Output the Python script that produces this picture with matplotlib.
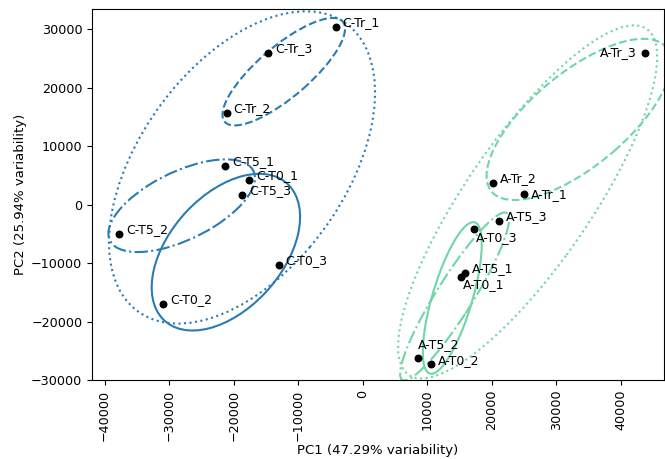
import numpy as np
import matplotlib.pyplot as plt
import matplotlib.transforms as transforms
from matplotlib.patches import Ellipse

# sample names and PCA scores
c_names = ["C-T0_1", "C-T0_2", "C-T0_3", "C-T5_1", "C-T5_2", "C-T5_3", "C-Tr_1", "C-Tr_2", "C-Tr_3"]
c_pc1 = [-17600, -30900, -13000, -21300, -37700, -18650, -4200, -21100, -14700]
c_pc2 = [4300, -17000, -10300, 6700, -5000, 1750, 30500, 15750, 26000]

a_names = ["A-T0_1", "A-T0_2", "A-T0_3", "A-T5_1", "A-T5_2", "A-T5_3", "A-Tr_1", "A-Tr_2", "A-Tr_3"]
a_pc1 = [15250, 10600, 17270, 15800, 8500, 21100, 25000, 20250, 43800]
a_pc2 = [-12300, -27300, -4200, -11700, -26250, -2750, 1900, 3800, 26000]

# group ellipses: centre, half extent along PC1 / PC2, correlation
ell_group = ["C-T0", "C-T5", "C-Tr", "C-all", "A-T0", "A-T5", "A-Tr", "A-all"]
ell_cx = [-21200, -28050, -12230, -18700, 13890, 14250, 33500, 25570]
ell_cy = [-8120, -170, 22770, 6380, -15960, -15700, 14600, 480]
ell_hx = [11500, 11360, 9500, 20620, 4570, 8450, 14300, 20080]
ell_hy = [13410, 7930, 9200, 26720, 12980, 14380, 13800, 30220]
ell_rho = [0.45, 0.60, 0.80, 0.48, 0.71, 0.92, 0.70, 0.82]

blue = "#2b7bb3"
green = "#6fd6a6"
line_styles = {"T0": "-", "T5": "-.", "Tr": "--", "all": ":"}


def group_ellipse(ax, cx, cy, hx, hy, rho, **kwargs):
    ell = Ellipse((0, 0), width=2 * np.sqrt(1 + rho), height=2 * np.sqrt(1 - rho),
                  facecolor="none", **kwargs)
    tr = transforms.Affine2D().rotate_deg(45).scale(hx, hy).translate(cx, cy)
    ell.set_transform(tr + ax.transData)
    return ax.add_patch(ell)


fig = plt.figure(figsize=(6.65, 4.59), dpi=100)
ax = fig.add_axes([92 / 665, 79 / 459, 572 / 665, 371 / 459])

for g, cx, cy, hx, hy, rho in zip(ell_group, ell_cx, ell_cy, ell_hx, ell_hy, ell_rho):
    col = blue if g.startswith("C") else green
    group_ellipse(ax, cx, cy, hx, hy, rho, edgecolor=col,
                  linestyle=line_styles[g.split("-")[1]], linewidth=1.5)

ax.scatter(c_pc1, c_pc2, s=22, color="black", zorder=5)
ax.scatter(a_pc1, a_pc2, s=22, color="black", zorder=5)

# label offsets in points (dx, dy, ha)
offsets = {"A-Tr_3": (-6.5, 0, "right"), "A-Tr_1": (5, -1, "left"), "A-T0_3": (1, -6, "left"),
           "A-T0_1": (1, -6, "left"), "A-T5_2": (0, 9.5, "left")}
for names, px, py in [(c_names, c_pc1, c_pc2), (a_names, a_pc1, a_pc2)]:
    for n, x, y in zip(names, px, py):
        dx, dy, ha = offsets.get(n, (5, 3, "left"))
        ax.annotate(n, (x, y), xytext=(dx, dy), textcoords="offset points",
                    ha=ha, va="center", fontsize=9)

ax.set_xlim(-41950, 46700)
ax.set_ylim(-30000, 33500)
ax.set_xticks(np.arange(-40000, 40001, 10000))
ax.tick_params(axis="x", labelrotation=90)
ax.tick_params(labelsize=9.2)
ax.set_xlabel("PC1 (47.29% variability)", fontsize=9.5, labelpad=2)
ax.set_ylabel("PC2 (25.94% variability)", fontsize=9.5, labelpad=3)

fig.savefig("out.png", dpi=100)
